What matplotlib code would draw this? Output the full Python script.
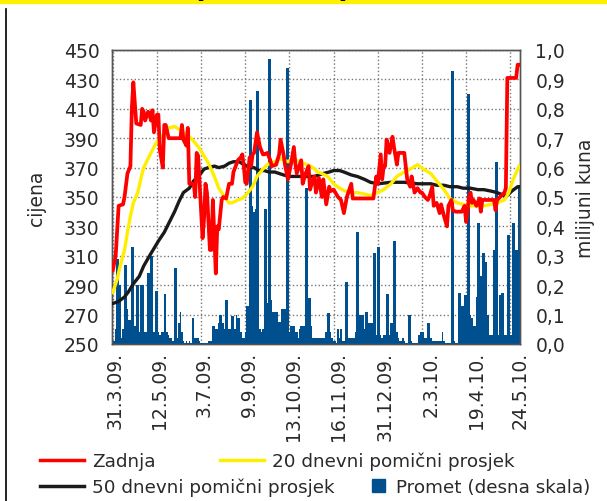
import matplotlib
matplotlib.use("Agg")
import matplotlib.pyplot as plt
from matplotlib.lines import Line2D
from matplotlib.patches import Rectangle
from matplotlib.ticker import FuncFormatter

# x = trading day index (0 = 31.3.09.)
close_idx = [0, 2, 4, 7, 8, 10, 12, 13, 14, 16, 19, 20, 21, 22, 24, 25, 26, 27, 28, 30,
             31, 32, 34, 35, 36, 38, 46, 47, 48, 50, 51, 52, 55, 56, 57, 58, 59, 61, 62, 63,
             64, 66, 67, 68, 70, 71, 72, 74, 75, 77, 79, 81, 82, 85, 87, 88, 89, 90, 91, 93,
             94, 95, 96, 98, 100, 102, 103, 105, 107, 108, 111, 113, 114, 116, 117, 119, 121, 123, 124, 125,
             128, 129, 131, 133, 134, 136, 137, 138, 140, 142, 143, 145, 147, 148, 150, 153, 155, 157, 159, 162,
             163, 177, 179, 180, 182, 183, 184, 185, 186, 188, 190, 191, 193, 194, 198, 200, 202, 203, 205, 207,
             209, 210, 212, 214, 215, 217, 218, 220, 222, 223, 225, 227, 228, 230, 231, 233, 237, 239, 240, 242,
             243, 244, 245, 247, 249, 250, 251, 259, 260, 261, 263, 266, 267, 268, 274, 275, 276]
close_val = [300, 310, 344, 345, 350, 366, 371, 411, 428, 400, 399, 410, 408, 402, 408, 406, 402, 409, 394, 406,
             406, 382, 370, 399, 399, 390, 390, 399, 389, 385, 397, 359, 359, 350, 380, 378, 359, 322, 335, 359,
             353, 314, 314, 348, 298, 330, 328, 348, 350, 349, 359, 359, 367, 375, 377, 379, 371, 360, 359, 377,
             371, 379, 380, 394, 384, 379, 379, 380, 375, 371, 372, 379, 389, 379, 372, 362, 372, 384, 373, 366,
             375, 359, 366, 371, 355, 362, 364, 353, 363, 350, 362, 345, 357, 354, 355, 350, 348, 339, 350, 359,
             349, 349, 364, 359, 379, 362, 371, 371, 389, 380, 391, 384, 372, 380, 380, 362, 357, 364, 353, 356,
             353, 353, 350, 348, 350, 357, 344, 346, 339, 345, 337, 330, 344, 348, 341, 340, 340, 344, 333, 350,
             353, 346, 348, 344, 349, 340, 348, 348, 341, 348, 350, 353, 356, 431, 431, 440, 440]

ma20_idx = [0, 3, 5, 8, 10, 12, 14, 17, 19, 21, 25, 28, 31, 35, 38, 42, 45, 48, 52, 55,
            59, 62, 65, 69, 72, 76, 79, 81, 85, 88, 91, 95, 98, 102, 105, 110, 114, 119, 122, 125,
            129, 132, 136, 139, 142, 146, 150, 154, 158, 162, 166, 171, 175, 180, 184, 189, 193, 198, 202, 207,
            211, 216, 220, 225, 229, 234, 238, 243, 248, 252, 257, 261, 266, 269, 272, 276]
ma20_val = [285, 294, 303, 314, 326, 337, 346, 353, 362, 370, 378, 384, 389, 393, 397, 398, 396, 394, 391, 388,
            383, 378, 373, 364, 356, 350, 346, 346, 348, 349, 352, 357, 364, 369, 372, 374, 376, 374, 376, 375,
            373, 372, 370, 367, 366, 364, 359, 356, 354, 353, 353, 352, 351, 353, 355, 359, 364, 367, 369, 372,
            369, 366, 361, 355, 349, 346, 345, 344, 344, 344, 345, 346, 348, 353, 362, 371]

ma50_idx = [0, 4, 8, 11, 14, 18, 21, 25, 28, 31, 35, 38, 42, 45, 48, 52, 55, 59, 62, 65,
            69, 72, 76, 79, 82, 86, 89, 93, 96, 99, 103, 106, 110, 113, 116, 120, 126, 133, 137, 140,
            143, 147, 150, 154, 157, 162, 166, 171, 175, 180, 189, 198, 207, 216, 220, 225, 229, 234, 238, 243,
            248, 252, 257, 261, 266, 268, 271, 275, 276]
ma50_val = [277.5, 279, 282, 286, 291, 296, 303, 310, 315, 320, 326, 332, 340, 347, 353, 356, 361, 365, 369, 370,
            371, 370, 371, 373, 374, 374, 372, 370, 370, 368, 368, 367, 367, 366, 365, 364, 364, 364, 364, 365,
            366, 367, 368, 368, 367, 365, 364, 362, 360, 359, 360, 360, 359, 359, 358, 358, 357, 357, 356, 356,
            355, 355, 354, 353, 351, 351, 354, 357, 357]

# promet, milijuni kuna, one bar per trading day
volume = [0.02, 0.01, 0.05, 0.29, 0.29, 0.20, 0.02, 0.05, 0.27, 0.27,
          0.12, 0.08, 0.08, 0.33, 0.33, 0.06, 0.20, 0.20, 0.04, 0.20,
          0.20, 0.20, 0.04, 0.04, 0.24, 0.24, 0.30, 0.30, 0.04, 0.18,
          0.18, 0.04, 0.03, 0.04, 0.04, 0.17, 0.17, 0.04, 0.03, 0.02,
          0.02, 0.01, 0.26, 0.26, 0.02, 0.07, 0.11, 0.04, 0.01, 0.005,
          0.01, 0.005, 0.01, 0.005, 0.09, 0.09, 0.02, 0.02, 0.02, 0.01,
          0.005, 0.005, 0.005, 0.003, 0.003, 0.01, 0.01, 0.01, 0.06, 0.06,
          0.05, 0.05, 0.07, 0.10, 0.10, 0.07, 0.05, 0.15, 0.15, 0.05,
          0.05, 0.095, 0.095, 0.05, 0.10, 0.09, 0.09, 0.04, 0.02, 0.02,
          0.04, 0.13, 0.13, 0.83, 0.83, 0.47, 0.45, 0.46, 0.86, 0.86,
          0.05, 0.04, 0.05, 0.46, 0.46, 0.14, 0.97, 0.97, 0.15, 0.11,
          0.11, 0.11, 0.11, 0.075, 0.075, 0.12, 0.12, 0.12, 0.94, 0.94,
          0.04, 0.06, 0.06, 0.06, 0.04, 0.04, 0.02, 0.05, 0.06, 0.06,
          0.06, 0.53, 0.53, 0.155, 0.155, 0.06, 0.02, 0.02, 0.02, 0.02,
          0.02, 0.02, 0.02, 0.02, 0.02, 0.04, 0.105, 0.105, 0.04, 0.02,
          0.01, 0.01, 0.005, 0.05, 0.02, 0.05, 0.01, 0.01, 0.21, 0.21,
          0.02, 0.02, 0.02, 0.02, 0.02, 0.04, 0.38, 0.38, 0.10, 0.10,
          0.10, 0.05, 0.11, 0.11, 0.07, 0.07, 0.07, 0.31, 0.31, 0.03,
          0.33, 0.33, 0.03, 0.02, 0.03, 0.03, 0.17, 0.17, 0.03, 0.07,
          0.07, 0.35, 0.35, 0.04, 0.02, 0.01, 0.01, 0.02, 0.01, 0.005,
          0.005, 0.10, 0.10, 0.01, 0.005, 0.005, 0.005, 0.005, 0.03, 0.04,
          0.04, 0.04, 0.02, 0.02, 0.07, 0.07, 0.02, 0.01, 0.01, 0.01,
          0.01, 0.01, 0.01, 0.01, 0.04, 0.01, 0.005, 0.005, 0.003, 0.003,
          0.93, 0.93, 0.01, 0.005, 0.005, 0.175, 0.175, 0.13, 0.13, 0.165,
          0.165, 0.85, 0.85, 0.10, 0.09, 0.06, 0.06, 0.16, 0.41, 0.41,
          0.23, 0.31, 0.31, 0.28, 0.28, 0.10, 0.03, 0.03, 0.03, 0.32,
          0.62, 0.62, 0.03, 0.165, 0.175, 0.175, 0.03, 0.03, 0.37, 0.37,
          0.03, 0.03, 0.41, 0.41, 0.32, 0.32, 0.54]

date_labels = ["31.3.09.", "12.5.09.", "3.7.09.", "9.9.09.", "13.10.09.",
               "16.11.09.", "31.12.09.", "2.3.10.", "19.4.10.", "24.5.10."]
label_pos = [1.5, 32, 62, 92.5, 123, 153.5, 185, 216.5, 247, 276.5]
grid_pos = [0, 30, 60, 90, 120, 150, 180, 210, 240, 270]

RED = "#ff0000"
YEL = "#ffee00"
BLK = "#1a1a1a"
BLUE = "#00508f"
TXT = "#2a2a2a"
FS = 13.5

plt.rcParams["font.family"] = ["DejaVu Sans"]

fig = plt.figure(figsize=(6.07, 5.02), dpi=100)
W, H = 607, 502

# yellow strip with the bottom of the cut-off title, left border line
fig.patches.append(Rectangle((0, 1 - 4 / H), 1, 4 / H, transform=fig.transFigure,
                             color="#fff000", zorder=0))
for gx, g in [(198, "("), (262, "/"), (345, ")")]:
    fig.text(gx / W, 1 + 26 / H, g, fontsize=22, fontweight="bold", color="black",
             ha="center", va="top")
fig.add_artist(Line2D([6 / W, 6 / W], [0, 1 - 10 / H], color="black", lw=1.2))

ax2 = fig.add_axes([112 / W, 1 - 345 / H, 408 / W, 294 / H])
ax = ax2.twinx()
ax.set_zorder(ax2.get_zorder() + 1)
ax.patch.set_visible(False)

n = len(volume)
ax2.bar(range(n), volume, width=1.0, color=BLUE, linewidth=0, zorder=2)
ax2.set_ylim(0, 1.0)
ax2.set_xlim(-0.5, n - 0.4)

ax.plot(ma50_idx, ma50_val, color=BLK, lw=2.4, zorder=3)
ax.plot(ma20_idx, ma20_val, color=YEL, lw=2.4, zorder=4)
ax.plot(close_idx, close_val, color=RED, lw=2.7, zorder=5)
ax.set_ylim(250, 450)

# the price axis is on the left, turnover on the right
ax.yaxis.tick_left()
ax.yaxis.set_label_position("left")
ax2.yaxis.tick_right()
ax2.yaxis.set_label_position("right")

ax.set_yticks(range(250, 451, 20))
ax2.set_yticks([i / 10 for i in range(11)])
ax2.yaxis.set_major_formatter(FuncFormatter(lambda v, p: f"{v:.1f}".replace(".", ",")))

ax2.set_xticks(grid_pos, minor=True)
ax2.set_xticks(label_pos)
ax2.set_xticklabels(date_labels, rotation=90, fontsize=FS, color=TXT)
ax2.grid(True, which="minor", axis="x", linestyle=":", color="#777777", lw=1)
ax2.grid(True, which="major", axis="y", linestyle=":", color="#777777", lw=1)
ax2.set_axisbelow(True)

ax.tick_params(axis="y", length=0, pad=9, labelsize=FS, labelcolor=TXT)
ax2.tick_params(axis="y", length=0, pad=11, labelsize=FS, labelcolor=TXT)
ax2.tick_params(axis="x", which="both", length=0, pad=5)
ax.set_ylabel("cijena", fontsize=FS, color=TXT, labelpad=13)
ax2.set_ylabel("milijuni kuna", fontsize=FS, color=TXT, labelpad=8)

for a in (ax, ax2):
    for s in a.spines.values():
        s.set_color("#555555")
        s.set_linewidth(1)

# legend, laid out in two rows as in the original
h_close = Line2D([], [], color=RED, lw=2.5)
h_ma20 = Line2D([], [], color=YEL, lw=2.5)
h_ma50 = Line2D([], [], color=BLK, lw=2.5)
h_vol = Rectangle((0, 0), 1, 1, color=BLUE)

common = dict(frameon=False, borderpad=0, borderaxespad=0, fontsize=13.2,
              labelcolor=TXT, loc="center left")
fig.legend([h_close, h_ma20], ["Zadnja", "20 dnevni pomični prosjek"], ncol=2,
           bbox_to_anchor=(40 / W, 1 - 462 / H), handlelength=2.4, handletextpad=0.45,
           columnspacing=3.5, **common)
fig.legend([h_ma50], ["50 dnevni pomični prosjek"],
           bbox_to_anchor=(40 / W, 1 - 488 / H), handlelength=2.4, handletextpad=0.45,
           **common)
fig.legend([h_vol], ["Promet (desna skala)"],
           bbox_to_anchor=(372 / W, 1 - 488 / H), handlelength=0.7, handleheight=0.7,
           handletextpad=0.6, **common)

fig.savefig("out.png", dpi=100)
